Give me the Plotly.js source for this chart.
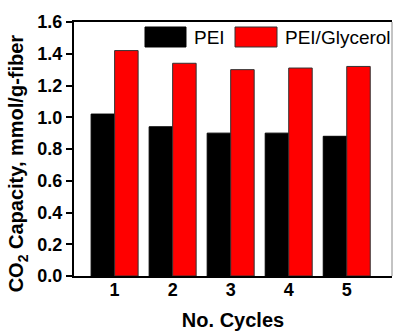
<!DOCTYPE html>
<html>
<head>
<meta charset="utf-8">
<script src="https://cdn.plot.ly/plotly-3.0.1.min.js"></script>
<style>html,body{margin:0;padding:0;background:#fff;}#chart{width:393px;height:331px;}</style>
</head>
<body>
<div id="chart"></div>
<script>
var cycles = [1, 2, 3, 4, 5];
var peiValues = [1.02, 0.94, 0.90, 0.90, 0.88];
var glycerolValues = [1.42, 1.34, 1.30, 1.31, 1.32];
var seriesNames = ['PEI', 'PEI/Glycerol'];
var yTicks = [0.0, 0.2, 0.4, 0.6, 0.8, 1.0, 1.2, 1.4, 1.6];

var fontFam = 'Liberation Sans, Arial, sans-serif';

var traces = [
  {type: 'bar', x: cycles, y: peiValues, name: seriesNames[0],
   marker: {color: '#000000', line: {color: '#000000', width: 1}}, showlegend: false},
  {type: 'bar', x: cycles, y: glycerolValues, name: seriesNames[1],
   marker: {color: '#ff0000', line: {color: '#333333', width: 1}}, showlegend: false}
];

var layout = {
  width: 393, height: 331,
  margin: {l: 74, r: 1, t: 22, b: 55},
  paper_bgcolor: '#ffffff', plot_bgcolor: '#ffffff',
  barmode: 'group', bargap: 0.19, bargroupgap: 0,
  font: {family: fontFam, color: '#000'},
  xaxis: {
    range: [0.3, 5.78], tickvals: cycles, ticktext: cycles.map(String),
    showgrid: false, zeroline: false,
    showline: true, linecolor: '#000', linewidth: 2, mirror: true,
    ticks: '', ticklabelstandoff: -4,
    tickfont: {family: fontFam, size: 18, weight: 'bold', color: '#000'},
    title: {text: '<b>No. Cycles</b>', font: {family: fontFam, size: 20, color: '#000'}, standoff: 24}
  },
  yaxis: {
    range: [0, 1.6], tickvals: yTicks, ticktext: yTicks.map(function(v){return v.toFixed(1);}),
    showgrid: false, zeroline: false,
    showline: true, linecolor: '#000', linewidth: 2, mirror: false,
    ticks: 'outside', ticklen: 6, tickwidth: 2, tickcolor: '#000',
    tickfont: {family: fontFam, size: 18, weight: 'bold', color: '#000'}
  },
  shapes: [
    {type: 'line', xref: 'paper', yref: 'paper', x0: 1, x1: 1, y0: 0, y1: 1,
     line: {color: '#888888', width: 1}},
    {type: 'rect', xref: 'paper', yref: 'paper', x0: 0.2233, x1: 0.3522, y0: 0.9016, y1: 0.9803,
     fillcolor: '#000000', line: {color: '#000000', width: 1}},
    {type: 'rect', xref: 'paper', yref: 'paper', x0: 0.5063, x1: 0.6384, y0: 0.9016, y1: 0.9803,
     fillcolor: '#ff0000', line: {color: '#333333', width: 1}}
  ],
  annotations: [
    {text: seriesNames[0], xref: 'paper', yref: 'paper', x: 0.371, y: 0.94,
     xanchor: 'left', yanchor: 'middle', showarrow: false,
     font: {family: fontFam, size: 19, color: '#000'}},
    {text: seriesNames[1], xref: 'paper', yref: 'paper', x: 0.657, y: 0.94,
     xanchor: 'left', yanchor: 'middle', showarrow: false,
     font: {family: fontFam, size: 19, color: '#000'}},
    {text: '<b>CO<sub>2</sub> Capacity, mmol/g-fiber</b>', xref: 'paper', yref: 'paper',
     x: -0.175, y: 0.445, xanchor: 'center', yanchor: 'middle', textangle: -90, showarrow: false,
     font: {family: fontFam, size: 20, color: '#000'}}
  ]
};

Plotly.newPlot('chart', traces, layout, {displayModeBar: false, staticPlot: true});
</script>
</body>
</html>
